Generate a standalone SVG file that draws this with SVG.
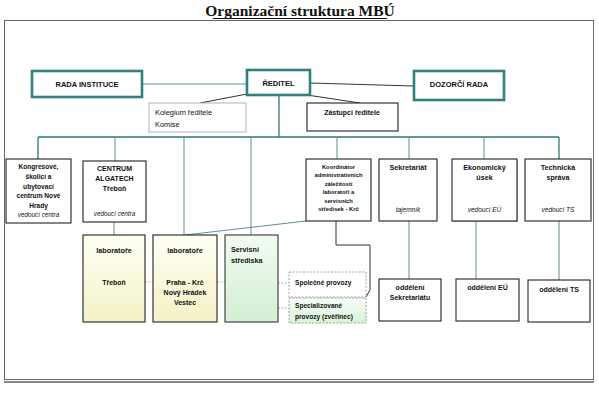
<svg xmlns="http://www.w3.org/2000/svg" width="599" height="401" viewBox="0 0 599 401">
<defs>
<linearGradient id="gy" x1="0" y1="0" x2="0" y2="1"><stop offset="0" stop-color="#fffff4"/><stop offset="1" stop-color="#f3f2c6"/></linearGradient>
<linearGradient id="gg" x1="0" y1="0" x2="0" y2="1"><stop offset="0" stop-color="#f2fbf2"/><stop offset="1" stop-color="#d2f0d2"/></linearGradient>
<linearGradient id="gg2" x1="0" y1="0" x2="0" y2="1"><stop offset="0" stop-color="#f8fdf8"/><stop offset="1" stop-color="#d8f2d8"/></linearGradient>
</defs>
<style>
text{font-family:"Liberation Sans",Arial,sans-serif;fill:#111}
.b{font-weight:bold}
.i{font-style:italic;font-weight:normal}
.c{text-anchor:middle}
.main{fill:#fff;stroke:#2f7f7c;stroke-width:2.6}
.box{fill:#fff;stroke:#222;stroke-width:1.1}
.lt{fill:#fff;stroke:#aaa;stroke-width:0.9}
.dsh{stroke:#888;stroke-width:0.8;stroke-dasharray:2,1.5}
.ln{fill:none;stroke:#5b8f96;stroke-width:1}
.bus{fill:none;stroke:#2b7a78;stroke-width:1.3}
.dk{fill:none;stroke:#333;stroke-width:1}
.dl{fill:none;stroke:#999;stroke-width:0.8;stroke-dasharray:2,1.5}
</style>
<rect x="0" y="0" width="599" height="401" fill="#fff"/>
<text x="300" y="16" class="c b" style="font-family:'Liberation Serif','Times New Roman',serif;font-size:15.5px">Organizační struktura MBÚ</text>
<line x1="213" y1="18.5" x2="387" y2="18.5" stroke="#111" stroke-width="1"/>
<rect x="4.5" y="20.5" width="589" height="359" fill="#fff" stroke="#666" stroke-width="1"/>
<line x1="4" y1="382" x2="594" y2="382" stroke="#111" stroke-width="1"/>

<g id="connectors">
<line class="ln" x1="142" y1="84" x2="247" y2="84"/>
<line class="dk" x1="310" y1="83" x2="414" y2="86"/>
<line class="dk" x1="247" y1="94" x2="200" y2="103"/>
<line class="dk" x1="307" y1="95" x2="360" y2="103"/>
<line class="bus" x1="279" y1="95" x2="279" y2="137"/>
<line class="bus" x1="38" y1="137" x2="559" y2="137"/>
<line class="bus" x1="38" y1="137" x2="38" y2="159"/>
<line class="ln" x1="115" y1="137" x2="115" y2="161"/>
<line class="ln" x1="184" y1="137" x2="184" y2="235"/>
<line class="ln" x1="251" y1="137" x2="251" y2="235"/>
<line class="ln" x1="337" y1="137" x2="337" y2="159"/>
<line class="ln" x1="409" y1="137" x2="409" y2="159"/>
<line class="ln" x1="484" y1="137" x2="484" y2="159"/>
<line class="bus" x1="559" y1="137" x2="559" y2="159"/>
<line class="ln" x1="114" y1="222" x2="114" y2="235"/>
<line class="ln" x1="185" y1="235" x2="306" y2="221"/>
<polyline class="dk" points="336,221 336,245 370,245 370,290 366,297"/>
<line class="ln" x1="409" y1="221" x2="409" y2="279"/>
<line class="ln" x1="476" y1="221" x2="476" y2="279"/>
<line class="ln" x1="559" y1="221" x2="559" y2="280"/>
<line class="dl" x1="145" y1="282" x2="153" y2="282"/>
<line class="dl" x1="217" y1="282" x2="225" y2="282"/>
<line class="dl" x1="278" y1="283" x2="289" y2="283"/>
<line class="dl" x1="278" y1="308" x2="289" y2="308"/>
</g>

<g id="rada-instituce"><rect class="main" x="32" y="71" width="110" height="26"/><text x="87" y="87" class="c b" font-size="7.5">RADA INSTITUCE</text></g>
<g id="reditel"><rect class="main" x="247" y="70" width="63" height="25"/><text x="278.5" y="86" class="c b" font-size="7.5">ŘEDITEL</text></g>
<g id="dozorci-rada"><rect class="main" x="414" y="71" width="90" height="29"/><text x="459" y="87" class="c b" font-size="7.5">DOZORČÍ RADA</text></g>
<g id="kolegium"><rect class="lt" x="149" y="103" width="97" height="29"/><text x="155" y="115" font-size="7.4">Kolegium ředitele</text><text x="155" y="127" font-size="7.4">Komise</text></g>
<g id="zastupci"><rect class="box" x="307" y="103" width="91" height="28"/><text x="352" y="115" class="c b" font-size="7">Zástupci ředitele</text></g>

<g id="kongresove"><rect class="box" x="6" y="159" width="65" height="64"/>
<text class="c b" font-size="6.6"><tspan x="38.5" y="169">Kongresové,</tspan><tspan x="38.5" y="179">školicí a</tspan><tspan x="38.5" y="188.5">ubytovací</tspan><tspan x="38.5" y="198">centrum Nové</tspan><tspan x="38.5" y="207.5">Hrady</tspan></text>
<text x="38.5" y="217" class="c i" font-size="6.3">vedoucí centra</text></g>
<g id="algatech"><rect class="box" x="83" y="161" width="63" height="61"/>
<text class="c b" font-size="7"><tspan x="114.5" y="171">CENTRUM</tspan><tspan x="114.5" y="181">ALGATECH</tspan><tspan x="114.5" y="191">Třeboň</tspan></text>
<text x="114.5" y="216" class="c i" font-size="6.3">vedoucí centra</text></g>
<g id="koordinator"><rect class="box" x="306" y="159" width="65" height="62"/>
<text class="c b" font-size="5.8"><tspan x="338.5" y="168.5">Koordinátor</tspan><tspan x="338.5" y="177">administrativních</tspan><tspan x="338.5" y="185.5">záležitostí</tspan><tspan x="338.5" y="194">laboratoří a</tspan><tspan x="338.5" y="202.5">servisních</tspan><tspan x="338.5" y="211">středisek - Krč</tspan></text></g>
<g id="sekretariat"><rect class="box" x="379" y="159" width="58" height="62"/><text x="408" y="170" class="c b" font-size="7.2">Sekretariát</text><text x="408" y="212" class="c i" font-size="6.5">tajemník</text></g>
<g id="ekonomicky"><rect x="453" y="160" width="65" height="62" fill="#bbb"/><rect class="box" x="452" y="159" width="65" height="62"/><text class="c b" font-size="7.2"><tspan x="484.5" y="170">Ekonomický</tspan><tspan x="484.5" y="180">úsek</tspan></text><text x="484.5" y="212" class="c i" font-size="6.5">vedoucí EÚ</text></g>
<g id="technicka"><rect class="box" x="525" y="159" width="66" height="62"/><text class="c b" font-size="7.2"><tspan x="558" y="170">Technická</tspan><tspan x="558" y="180">správa</tspan></text><text x="558" y="212" class="c i" font-size="6.5">vedoucí TS</text></g>

<g id="lab-trebon"><rect x="83" y="235" width="62" height="87" fill="url(#gy)" stroke="#222" stroke-width="1.1"/><text x="114" y="253" class="c b" font-size="7.3">laboratoře</text><text x="114" y="285" class="c b" font-size="7">Třeboň</text></g>
<g id="lab-praha"><rect x="153" y="235" width="64" height="87" fill="url(#gy)" stroke="#222" stroke-width="1.1"/><text x="185" y="253" class="c b" font-size="7.3">laboratoře</text>
<text class="c b" font-size="7"><tspan x="185" y="285">Praha - Krč</tspan><tspan x="185" y="295">Nový Hrádek</tspan><tspan x="185" y="305">Vestec</tspan></text></g>
<g id="servisni"><rect x="225" y="235" width="53" height="87" fill="url(#gg)" stroke="#333" stroke-width="1.1"/><text class="b" font-size="7.2"><tspan x="231" y="252">Servisní</tspan><tspan x="231" y="263">střediska</tspan></text></g>
<g id="spolecne"><rect x="289" y="272" width="77" height="25" fill="#fff" class="dsh"/><text x="295" y="285" class="b" font-size="6.6">Společné provozy</text></g>
<g id="specializovane"><rect x="289" y="298" width="77" height="25" fill="url(#gg2)" class="dsh"/><text class="b" font-size="6.6"><tspan x="295" y="308">Specializované</tspan><tspan x="295" y="319">provozy (zvěřinec)</tspan></text></g>

<g id="odd-sekretariatu"><rect class="box" x="379" y="279" width="62" height="42"/><text class="c b" font-size="7"><tspan x="410" y="290">oddělení</tspan><tspan x="410" y="300">Sekretariátu</tspan></text></g>
<g id="odd-eu"><rect class="box" x="456" y="279" width="63" height="42"/><text x="487.5" y="290" class="c b" font-size="7">oddělení EÚ</text></g>
<g id="odd-ts"><rect class="box" x="528" y="280" width="62" height="42"/><text x="559" y="292" class="c b" font-size="7">oddělení TS</text></g>
</svg>
